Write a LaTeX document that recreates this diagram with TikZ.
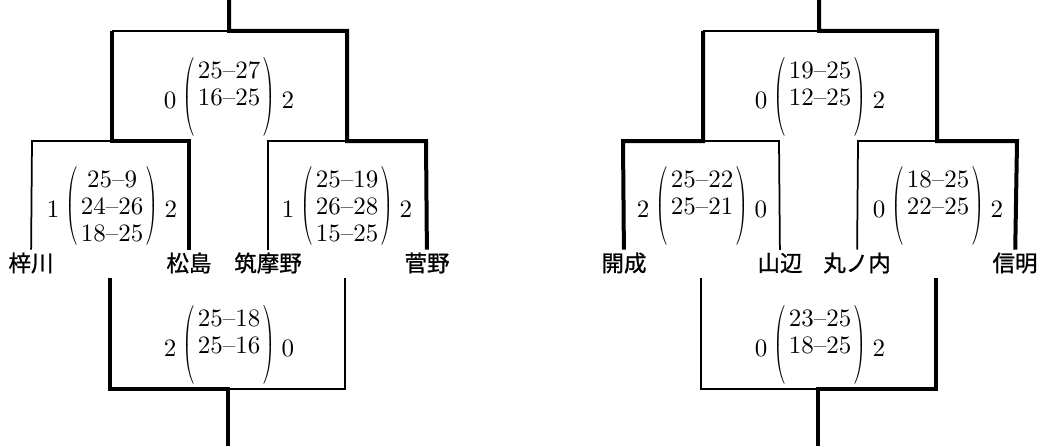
\documentclass[tikz,border=0pt]{standalone}
\usepackage{graphicx}
\usepackage{fontspec}
\newfontfamily\cjk[FakeBold=1]{Noto Sans CJK JP}
\usetikzlibrary{positioning}
% narrow round brackets
\newcommand{\lpar}{\scalebox{0.55}[0.88]{$\left(\vcenter{\hbox{\rule{0pt}{36pt}}}\right.$}}
\newcommand{\rpar}{\scalebox{0.55}[0.88]{$\left.\vcenter{\hbox{\rule{0pt}{36pt}}}\right)$}}
% one match: name, position, sets left, rallies, sets right
\newcommand{\match}[5]{%
\node (#1) at (#2) [rows] {#4};
\node (#1a) [par,left=-0.5pt of #1] {\lpar};
\node (#1b) [par,right=-0.5pt of #1] {\rpar};
\node (#1L) [sets,left=2pt of #1a] {#3};
\node (#1R) [sets,right=2pt of #1b] {#5};}

\begin{document}
\begin{tikzpicture}[x=0.4pt,y=-0.4pt,
win/.style={line width=1.6pt},
lose/.style={line width=0.7pt},
par/.style={inner sep=0pt},
team/.style={font=\cjk\fontsize{9}{9}\selectfont,inner sep=1pt},
rows/.style={align=center,inner xsep=0.8pt,inner ysep=1.5pt,font=\fontsize{10}{10.8}\selectfont,
  execute at begin node=\rule{0pt}{9pt}},
sets/.style={inner sep=0pt,yshift=-1.3pt,font=\fontsize{10}{10.8}\selectfont}]
\useasboundingbox (0,0) rectangle (1043,446);

% left bracket
\coordinate (lt0) at (229,0);
\coordinate (lt1) at (229,31);
\coordinate (lfa) at (112,31);
\coordinate (lfb) at (347,31);
\coordinate (lsa) at (112,141);
\coordinate (lsb) at (347,141);
\coordinate (la1) at (32,141);
\coordinate (la2) at (189,141);
\coordinate (lb1) at (268,141);
\coordinate (lb2) at (426,141);
\coordinate (lc1) at (110,278);
\coordinate (lc2) at (345,278);
\coordinate (ld1) at (110,389);
\coordinate (ld2) at (345,389);
\coordinate (ldm) at (228,389);
\coordinate (lend) at (228,446);

\node (azusa) at (31,263) [team] {梓川};
\node (matsu) at (189,263) [team] {松島};
\node (chiku) at (268,263) [team] {筑摩野};
\node (suga) at (427,263) [team] {菅野};

\match{lfin}{229,97}{0}{25--27\\16--25\\ \mbox{}}{2}
\match{lq1}{112,206}{1}{25--9\\24--26\\18--25}{2}
\match{lq2}{347,206}{1}{25--19\\26--28\\15--25}{2}
\match{lbot}{229,345}{2}{25--18\\25--16\\ \mbox{}}{0}

\draw[win] (matsu) -- (la2) -- (lsa) -- (lfa);
\draw[win] (suga) -- (lb2) -- (lsb) -- (lfb) -- (lt1) -- (lt0);
\draw[lose] (lfa) -- (lt1);
\draw[lose] (azusa) -- (la1) -- (lsa);
\draw[lose] (chiku) -- (lb1) -- (lsb);
\draw[win] (lc1) -- (ld1) -- (ldm) -- (lend);
\draw[lose] (lc2) -- (ld2) -- (ldm);

% right bracket
\coordinate (rt0) at (819,0);
\coordinate (rt1) at (819,31);
\coordinate (rfa) at (703,31);
\coordinate (rfb) at (937,31);
\coordinate (rsa) at (703,141);
\coordinate (rsb) at (937,141);
\coordinate (ra1) at (623,141);
\coordinate (ra2) at (779,141);
\coordinate (rb1) at (858,141);
\coordinate (rb2) at (1017,141);
\coordinate (rc1) at (701,278);
\coordinate (rc2) at (936,278);
\coordinate (rd1) at (701,389);
\coordinate (rd2) at (936,389);
\coordinate (rdm) at (818,389);
\coordinate (rend) at (818,446);

\node (kaisei) at (624,263) [team] {開成};
\node (yama) at (780,263) [team] {山辺};
\node (maru) at (857,263) [team] {丸ノ内};
\node (shin) at (1015,263) [team] {信明};

\match{rfin}{820,97}{0}{19--25\\12--25\\ \mbox{}}{2}
\match{rq1}{702,206}{2}{25--22\\25--21\\ \mbox{}}{0}
\match{rq2}{938,206}{0}{18--25\\22--25\\ \mbox{}}{2}
\match{rbot}{820,345}{0}{23--25\\18--25\\ \mbox{}}{2}

\draw[win] (kaisei) -- (ra1) -- (rsa) -- (rfa);
\draw[win] (shin) -- (rb2) -- (rsb) -- (rfb) -- (rt1) -- (rt0);
\draw[lose] (rfa) -- (rt1);
\draw[lose] (yama) -- (ra2) -- (rsa);
\draw[lose] (maru) -- (rb1) -- (rsb);
\draw[lose] (rc1) -- (rd1) -- (rdm);
\draw[win] (rc2) -- (rd2) -- (rdm) -- (rend);

\end{tikzpicture}
\end{document}
